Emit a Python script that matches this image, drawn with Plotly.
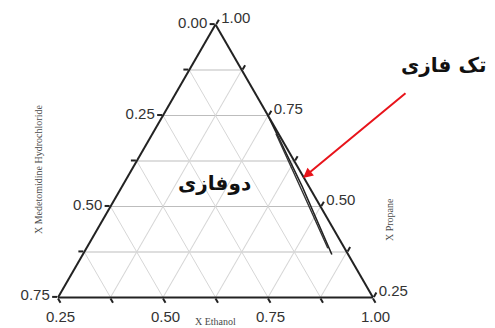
import plotly.graph_objects as go

# ternary axis values (a = top / left ticks, b = bottom, c = right)
grid_vals_a = [0.25, 0.375, 0.5, 0.625, 0.75, 0.875, 1.0]
grid_vals_bc = [0.0, 0.125, 0.25, 0.375, 0.5, 0.625, 0.75]
labels_a = ["0.75", "", "0.50", "", "0.25", "", "0.00"]
labels_bc = ["1.00", "", "0.75", "", "0.50", "", "0.25"]

# binodal curve near the propane edge (two close lines)
curve1_a = [0.75, 0.555, 0.368]
curve1_b = [0.0, 0.016, 0.039]
curve1_c = [0.25, 0.429, 0.593]

curve2_a = [0.70, 0.53, 0.385]
curve2_b = [0.006, 0.024, 0.040]
curve2_c = [0.294, 0.446, 0.575]

# page body has an 8px margin, so the figure is drawn 8px smaller
W, H = 487, 320

fig = go.Figure()
fig.add_trace(go.Scatterternary(a=curve1_a, b=curve1_b, c=curve1_c, mode="lines",
                                line=dict(color="#222", width=1.6), showlegend=False))
fig.add_trace(go.Scatterternary(a=curve2_a, b=curve2_b, c=curve2_c, mode="lines",
                                line=dict(color="#333", width=1.4), showlegend=False))

tickfont = dict(family="Liberation Sans, Arial", size=15, color="#333")

def axis(vals, labels, gridcolor):
    return dict(tickmode="array", tickvals=vals, ticktext=labels, ticks="outside",
                ticklen=5, tickcolor="#222", tickwidth=1.5, linecolor="#222", linewidth=2,
                showgrid=True, gridcolor=gridcolor, gridwidth=1, tickfont=tickfont,
                title=dict(text=""))

fig.update_layout(
    width=W, height=H,
    margin=dict(l=0, r=0, t=0, b=0),
    paper_bgcolor="white",
    ternary=dict(
        domain=dict(x=[50 / W, 365 / W], y=[1 - 289.4 / H, 1 - 16.6 / H]),
        sum=1,
        bgcolor="white",
        aaxis=dict(min=0.25, **axis(grid_vals_a, labels_a, "#bdbdbd")),
        baxis=dict(min=0.0, **axis(grid_vals_bc, labels_bc, "#d6d6d6")),
        caxis=dict(min=0.0, **axis(grid_vals_bc, labels_bc, "#d6d6d6")),
    ),
)

def px(x, y):
    return dict(x=x / W, y=1 - y / H, xref="paper", yref="paper",
                xanchor="center", yanchor="middle")

serif = dict(family="Liberation Serif, Times New Roman", size=10, color="#4a4a4a")
fig.add_annotation(text="X Ethanol", showarrow=False, font=serif, **px(207, 313))
fig.add_annotation(text="X Medetomidine Hydrochloride", showarrow=False, textangle=-90,
                   font=serif, **px(30, 162))
fig.add_annotation(text="X Propane", showarrow=False, textangle=-90, font=serif, **px(381, 212))

persian = dict(family="DejaVu Sans", size=20, color="#111")
fig.add_annotation(text="<b>دوفازی</b>", showarrow=False, font=persian, **px(206, 175))
fig.add_annotation(text="<b>تک فازی</b>", showarrow=False, font=persian, **px(435, 57))
fig.add_annotation(text="", showarrow=True, ax=104, ay=-86, arrowcolor="#e8141b",
                   arrowwidth=2, arrowhead=2, arrowsize=1, standoff=0, **px(295, 170))

fig.write_html("out.html")
